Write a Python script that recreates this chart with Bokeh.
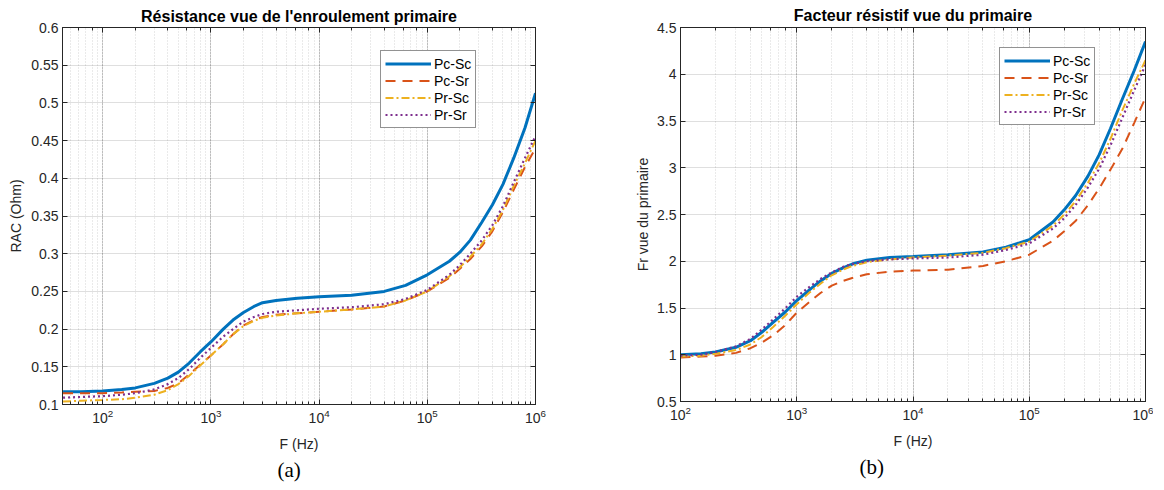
from bokeh.plotting import figure
from bokeh.models import (LogAxis, LinearAxis, Legend, LegendItem, Title, FixedTicker,
                          CustomJSTickFormatter, Range1d)
from bokeh.layouts import row
from bokeh.embed import file_html
from bokeh.resources import INLINE

# ---------------- data ----------------
series_names = ["Pc-Sc", "Pc-Sr", "Pr-Sc", "Pr-Sr"]

# (a) Résistance vue de l'enroulement primaire
freq_a = [43, 63, 100, 150, 200, 300, 400, 500, 630, 800, 1000, 1300, 1600, 2000, 2500, 3000,
          4000, 6300, 10000, 20000, 40000, 63000, 100000, 160000, 200000, 250000, 320000,
          400000, 500000, 630000, 800000, 1000000]
rac_pcsc = [0.117, 0.117, 0.118, 0.120, 0.122, 0.128, 0.135, 0.143, 0.155, 0.170, 0.183, 0.200,
            0.212, 0.222, 0.230, 0.235, 0.238, 0.241, 0.243, 0.245, 0.250, 0.258, 0.272, 0.290,
            0.302, 0.318, 0.342, 0.365, 0.392, 0.427, 0.467, 0.513]
rac_pcsr = [0.115, 0.115, 0.115, 0.116, 0.117, 0.118, 0.122, 0.128, 0.140, 0.153, 0.165, 0.180,
            0.193, 0.205, 0.212, 0.216, 0.219, 0.221, 0.223, 0.226, 0.230, 0.238, 0.250, 0.268,
            0.280, 0.293, 0.310, 0.330, 0.355, 0.385, 0.415, 0.440]
rac_prsc = [0.104, 0.105, 0.106, 0.107, 0.109, 0.113, 0.119, 0.127, 0.138, 0.152, 0.165, 0.180,
            0.193, 0.204, 0.211, 0.215, 0.218, 0.221, 0.223, 0.226, 0.230, 0.238, 0.250, 0.270,
            0.282, 0.296, 0.313, 0.333, 0.358, 0.390, 0.420, 0.450]
rac_prsr = [0.109, 0.110, 0.111, 0.113, 0.115, 0.120, 0.127, 0.135, 0.147, 0.162, 0.175, 0.190,
            0.200, 0.210, 0.216, 0.220, 0.223, 0.225, 0.227, 0.229, 0.233, 0.240, 0.252, 0.272,
            0.285, 0.300, 0.318, 0.338, 0.363, 0.395, 0.427, 0.456]

# (b) Facteur résistif vue du primaire
freq_b = [100, 150, 200, 300, 400, 500, 630, 800, 1000, 1300, 1600, 2000, 2500, 3000, 4000,
          6300, 10000, 20000, 40000, 63000, 100000, 160000, 200000, 250000, 320000, 400000,
          500000, 630000, 800000, 1000000]
fr_pcsc = [1.00, 1.01, 1.03, 1.08, 1.15, 1.24, 1.35, 1.46, 1.58, 1.70, 1.79, 1.87, 1.93, 1.97,
           2.01, 2.04, 2.05, 2.07, 2.10, 2.15, 2.23, 2.42, 2.55, 2.70, 2.91, 3.14, 3.42, 3.73,
           4.04, 4.35]
fr_pcsr = [0.97, 0.98, 0.99, 1.02, 1.07, 1.13, 1.21, 1.32, 1.45, 1.57, 1.66, 1.74, 1.79, 1.82,
           1.86, 1.89, 1.90, 1.91, 1.95, 2.00, 2.07, 2.22, 2.32, 2.43, 2.60, 2.78, 2.98, 3.20,
           3.48, 3.75]
fr_prsc = [0.98, 0.99, 1.01, 1.05, 1.11, 1.19, 1.30, 1.42, 1.54, 1.67, 1.76, 1.85, 1.91, 1.95,
           1.99, 2.02, 2.04, 2.06, 2.09, 2.14, 2.21, 2.38, 2.50, 2.64, 2.84, 3.05, 3.31, 3.61,
           3.90, 4.15]
fr_prsr = [0.99, 1.00, 1.03, 1.09, 1.17, 1.27, 1.38, 1.50, 1.62, 1.73, 1.81, 1.88, 1.94, 1.97,
           2.00, 2.02, 2.03, 2.04, 2.07, 2.12, 2.19, 2.35, 2.46, 2.60, 2.79, 2.99, 3.24, 3.53,
           3.83, 4.10]

yticks_a = [0.1, 0.15, 0.2, 0.25, 0.3, 0.35, 0.4, 0.45, 0.5, 0.55, 0.6]
yticks_b = [0.5, 1, 1.5, 2, 2.5, 3, 3.5, 4, 4.5]

# ---------------- style ----------------
COLORS = ["#0072BD", "#D95319", "#EDB120", "#7E2F8E"]
WIDTHS = [3.0, 2.0, 2.0, 2.2]
DASHES = ["solid", "10 7", "8 3 2 3", "2 3"]
AX = "#262626"
FONT = "Liberation Sans"


def make_plot(title, xr, yr, yticks, ylabel, xs, ys_list, caption, cap_offset,
              frame_w, frame_h, bl, bt, br, leg_loc, title_standoff, ylab_standoff):
    p = figure(x_axis_type="log", output_backend="svg", toolbar_location=None,
               frame_width=frame_w, frame_height=frame_h,
               min_border_left=bl, min_border_top=bt, min_border_right=br,
               min_border_bottom=86,
               x_range=Range1d(*xr), y_range=Range1d(*yr))
    p.background_fill_color = "white"
    p.border_fill_color = "white"
    p.outline_line_color = AX
    p.outline_line_width = 1

    p.title.text = title
    p.title.text_font = FONT
    p.title.text_font_size = "16px"
    p.title.text_font_style = "bold"
    p.title.text_color = "black"
    p.title.align = "center"
    p.title.standoff = title_standoff

    # axes
    for ax in [p.xaxis[0], p.yaxis[0]]:
        ax.axis_line_color = AX
        ax.major_tick_line_color = AX
        ax.minor_tick_line_color = AX
        ax.major_tick_in = 5
        ax.major_tick_out = 0
        ax.minor_tick_in = 3
        ax.minor_tick_out = 0
        ax.major_label_text_font = FONT
        ax.major_label_text_font_size = "14px"
        ax.major_label_text_color = AX
        ax.axis_label_text_font = FONT
        ax.axis_label_text_font_size = "14px"
        ax.axis_label_text_font_style = "normal"
        ax.axis_label_text_color = AX
        ax.major_label_standoff = 4
    p.yaxis[0].minor_tick_in = 0
    p.yaxis[0].ticker = FixedTicker(ticks=yticks)
    p.yaxis[0].formatter = CustomJSTickFormatter(
        code="return Number(tick.toFixed(2)).toString();")
    p.yaxis[0].axis_label = ylabel
    p.yaxis[0].axis_label_standoff = ylab_standoff
    p.xaxis[0].axis_label = "F (Hz)"
    p.xaxis[0].axis_label_standoff = 10

    # box ticks on top / right (no labels)
    top = LogAxis(major_tick_in=5, major_tick_out=0, minor_tick_in=3, minor_tick_out=0,
                  formatter=CustomJSTickFormatter(code="return ' ';"),
                  major_label_text_font_size="1px", major_label_standoff=0,
                  axis_line_color=AX, major_tick_line_color=AX, minor_tick_line_color=AX)
    right = LinearAxis(major_tick_in=5, major_tick_out=0, minor_tick_in=0, minor_tick_out=0,
                       formatter=CustomJSTickFormatter(code="return ' ';"),
                       major_label_text_font_size="1px", major_label_standoff=0,
                       ticker=FixedTicker(ticks=yticks),
                       axis_line_color=AX, major_tick_line_color=AX)
    p.add_layout(top, "above")
    p.add_layout(right, "right")

    # grids
    p.xgrid.grid_line_color = AX
    p.xgrid.grid_line_alpha = 0.15
    p.xgrid.minor_grid_line_color = AX
    p.xgrid.minor_grid_line_alpha = 0.2
    p.xgrid.minor_grid_line_dash = "1 2"
    p.ygrid.ticker = FixedTicker(ticks=yticks)
    p.ygrid.grid_line_color = AX
    p.ygrid.grid_line_alpha = 0.15

    items = []
    for name, ys, c, w, d in zip(series_names, ys_list, COLORS, WIDTHS, DASHES):
        r = p.line(xs, ys, line_color=c, line_width=w, line_dash=d)
        items.append(LegendItem(label=name, renderers=[r]))

    leg = Legend(items=items, location=leg_loc)
    leg.border_line_color = AX
    leg.border_line_width = 1
    leg.background_fill_color = "white"
    leg.background_fill_alpha = 1
    leg.label_text_font = FONT
    leg.label_text_font_size = "14px"
    leg.label_text_color = "black"
    leg.glyph_width = 46
    leg.glyph_height = 17
    leg.label_height = 17
    leg.label_standoff = 3
    leg.spacing = 0
    leg.padding = 4
    leg.margin = 0
    p.add_layout(leg)

    cap = Title(text=caption, text_font="Liberation Serif", text_font_size="21px",
                text_font_style="normal", text_color="black", align="left",
                offset=cap_offset, standoff=2)
    p.add_layout(cap, "below")
    return p


p1 = make_plot("Résistance vue de l'enroulement primaire", (42.5, 1e6), (0.1, 0.6), yticks_a,
               "RAC (Ohm)", freq_a, [rac_pcsc, rac_pcsr, rac_prsc, rac_prsr],
               "(a)", 215, 473, 377, 62, 24, 39, (318, 276), -3, 4)
p2 = make_plot("Facteur résistif vue du primaire", (1e2, 1e6), (0.5, 4.5), yticks_b,
               "Fr vue du primaire", freq_b, [fr_pcsc, fr_pcsr, fr_prsc, fr_prsr],
               "(b)", 179, 465, 374, 106, 27, 8, (319, 276), -1, 3)

layout = row(p1, p2)
open("out.html", "w").write(file_html(layout, INLINE))
